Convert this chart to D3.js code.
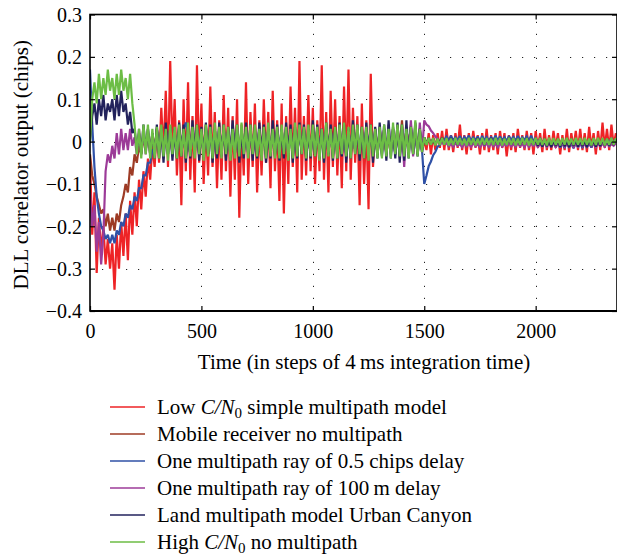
<!DOCTYPE html>
<html><head><meta charset="utf-8">
<script src="https://cdn.jsdelivr.net/npm/d3@7"></script>
<style>body{margin:0;background:#fff}svg{display:block}</style>
</head><body>
<svg id="chart" width="617" height="555"></svg>
<script>
// time axis: one sample every timeStep integration steps
const timeStep = 10;
const xDomain = [0, 2365];
const yDomain = [-0.4, 0.3];
const xTicks = [0, 500, 1000, 1500, 2000];
const yTicks = [0.3, 0.2, 0.1, 0, -0.1, -0.2, -0.3, -0.4];
const xTitle = "Time (in steps of 4\u2009ms integration time)";
const yTitle = "DLL correlator output (chips)";
const seriesNames = ["Low C/N0 simple multipath model", "Mobile receiver no multipath", "One multipath ray of 0.5 chips delay", "One multipath ray of 100\u2009m delay", "Land multipath model Urban Canyon", "High C/N0 no multipath"];
const seriesColors = ["#ee2326", "#9e3b25", "#2f50a6", "#9c3b98", "#22225c", "#6cbd45"];

const lowCN0Multipath = [
-.04,-.22,-.12,-.31,-.18,-.26,-.2,-.29,-.23,-.3,
-.24,-.35,-.22,-.3,-.19,-.27,-.17,-.28,-.14,-.22,
-.12,-.2,-.09,-.16,-.07,-.13,-.04,-.09,-.01,-.06,
.03,-.05,.08,-.03,.12,-.06,.19,-.02,.1,-.08,
.05,-.15,.1,-.07,.14,-.09,.06,-.12,.18,-.05,
.09,-.1,.04,-.08,.13,-.06,.07,-.11,.05,-.09,
.11,-.07,.08,-.13,.06,-.09,.1,-.18,.04,-.08,
.14,-.1,.07,-.06,.09,-.12,.05,-.08,.1,-.05,
.07,-.11,.12,-.07,.05,-.14,.09,-.17,.06,-.1,
.13,-.06,.08,-.12,.19,-.09,.06,-.08,.11,-.07,
.08,-.1,.05,-.07,.18,-.09,.07,-.12,.12,-.06,
.1,-.08,.06,-.11,.13,-.07,.17,-.09,.08,-.05,
.06,-.15,.09,-.1,.05,-.16,.16,-.06,.03,-.03,
.02,-.02,.03,-.03,.02,-.01,.03,-.02,.02,-.03,
.02,-.03,.03,-.02,.02,-.02,.03,-.03,.02,-.02,
0,-.02,.02,-.03,.015,-.02,.02,-.015,.025,-.02,
.03,-.02,.015,-.025,.02,-.015,.04,-.02,.015,-.03,
.02,-.02,.025,-.015,.015,-.03,.02,-.02,.03,-.025,
.015,-.02,.02,-.03,.025,-.015,.02,-.035,.015,-.02,
.02,-.025,.03,-.015,.015,-.02,.025,-.02,.02,-.03,
.025,-.015,.02,-.025,.03,-.02,.015,-.02,.025,-.015,
.02,-.03,.015,-.02,.03,-.025,.02,-.015,.025,-.02,
.03,-.02,.02,-.025,.035,-.015,.02,-.03,.025,-.02,
.045,-.015,.03,-.02,.04,-.01,.02];

const mobileNoMultipath = [
-.03,-.08,-.1,-.13,-.15,-.17,-.16,-.2,-.17,-.21,
-.18,-.21,-.17,-.19,-.15,-.13,-.1,-.12,-.06,-.08,
-.03,-.05,-.01,-.03,.01,-.02,.02,-.03,.02,-.02,
.03,-.02,.02,-.03,.03,-.02,.02,-.03,.02,-.02,
.02,-.03,.03,-.02,.02,-.03,.03,-.02,.03,-.03,
.03,-.02,.02,-.03,.02,-.02,.03,-.03,.02,-.02,
.02,-.03,.03,-.02,.03,-.03,.02,-.02,.03,-.02,
.03,-.02,.02,-.03,.02,-.03,.03,-.02,.02,-.03,
.02,-.03,.03,-.02,.02,-.02,.03,-.03,.02,-.02,
.03,-.02,.02,-.03,.03,-.02,.02,-.03,.03,-.02,
.02,-.03,.03,-.02,.02,-.03,.02,-.02,.03,-.03,
.03,-.02,.02,-.03,.03,-.02,.03,-.03,.02,-.02,
.02,-.03,.03,-.02,.02,-.03,.03,-.02,.02,-.03,
.03,-.02,.02,-.03,.02,-.02,.03,-.03,.04,-.02,
.05,-.03,.03,-.02,.04,-.03,.02,-.02,.03,-.02,
.01,-.005,.008,-.006,.007,-.008,.006,-.005,.008,-.006,
.007,-.005,.006,-.007,.008,-.004,.006,-.006,.007,-.005,
.006,-.007,.008,-.005,.006,-.006,.007,-.004,.008,-.006,
.007,-.006,.005,-.007,.006,-.005,.008,-.006,.006,-.004,
.008,-.005,.006,-.006,.007,-.007,.005,-.005,.007,-.006,
.006,-.006,.007,-.005,.008,-.006,.006,-.007,.005,-.005,
.007,-.005,.006,-.006,.008,-.004,.007,-.006,.006,-.007,
.005,-.006,.007,-.005,.006,-.007,.008,-.005,.006,-.006,
.007,-.005,.006,-.006,.008,-.005,.006];

const rayHalfChip = [
.17,.04,-.06,-.13,-.17,-.2,-.21,-.23,-.22,-.24,
-.22,-.24,-.21,-.22,-.19,-.2,-.17,-.18,-.15,-.16,
-.13,-.14,-.11,-.11,-.08,-.08,-.05,-.05,-.02,-.02,
.02,-.02,.03,-.02,.02,-.03,.03,-.02,.02,-.02,
.03,-.02,.03,.045,.02,-.03,.02,-.02,.03,-.02,
.02,-.03,.03,-.02,.02,-.02,.03,-.03,.02,-.02,
.03,-.02,.02,-.03,.03,-.02,.02,-.03,.03,-.02,
.02,-.03,.03,-.02,.02,-.03,.02,-.02,.03,-.03,
.03,-.02,.02,-.03,.03,-.02,.03,-.02,.02,-.03,
.02,-.02,.03,-.03,.02,-.02,.03,-.02,.02,-.03,
.03,-.03,.02,-.02,.03,-.02,.02,-.03,.03,-.02,
.02,-.02,.03,-.03,.02,-.03,.03,-.02,.02,-.02,
.03,-.02,.02,-.03,.03,-.02,.02,-.02,.03,-.03,
.02,-.03,.03,-.02,.02,-.02,.03,-.03,.02,-.02,
.03,-.02,.02,-.03,.03,-.02,.02,-.03,.02,-.02,
-.1,-.08,-.058,-.047,-.032,-.024,-.012,-.008,.002,.004,
.012,.003,.014,.002,.01,.004,.013,.001,.011,.005,
.014,.002,.01,.004,.012,.001,.013,.003,.011,.002,
.01,.004,.014,.002,.012,.003,.01,.001,.013,.004,
.011,.002,.013,.003,.01,.004,.012,.002,.014,.001,
.008,-.002,.006,-.004,.003,-.008,.002,-.01,0,-.012,
-.003,-.014,-.004,-.015,-.002,-.012,-.005,-.016,-.003,-.013,
-.004,-.015,-.002,-.012,-.005,-.014,-.003,-.011,0,-.01,
.004,-.008,.006,-.006,.008,-.004,.005];

const ray100m = [
-.12,-.2,-.15,-.26,-.19,-.29,-.22,-.07,-.03,-.05,
-.01,-.04,.02,-.03,.03,-.02,.02,-.02,.03,-.01,
.01,-.03,.03,-.02,.02,-.03,.03,-.02,.02,-.03,
.03,-.03,.02,-.04,.035,-.02,.03,-.035,.025,-.03,
.035,-.025,.03,-.04,.02,-.03,.04,-.02,.03,-.035,
.025,-.03,.035,-.02,.03,-.04,.02,-.03,.035,-.025,
.03,-.035,.025,-.03,.04,-.02,.03,-.04,.02,-.03,
.035,-.02,.03,-.035,.025,-.03,.035,-.025,.03,-.04,
.02,-.03,.04,-.025,.03,-.035,.02,-.03,.035,-.02,
.03,-.04,.025,-.03,.035,-.02,.03,-.035,.02,-.03,
.04,-.025,.03,-.03,.02,-.04,.035,-.02,.03,-.035,
.025,-.03,.035,-.025,.03,-.04,.02,-.03,.04,-.02,
.03,-.035,.025,-.03,.035,-.02,.03,-.04,.025,-.03,
.035,-.025,.03,-.035,.04,-.03,.025,-.03,.035,-.04,
.03,-.06,.035,-.03,.05,-.035,.04,-.03,.045,-.025,
.05,.04,.036,.026,.02,.012,.006,0,-.004,-.006,
-.004,-.011,-.005,-.012,-.003,-.01,-.006,-.013,-.004,-.011,
-.005,-.012,-.003,-.011,-.006,-.013,-.004,-.01,-.005,-.012,
-.003,-.011,-.005,-.013,-.004,-.012,-.006,-.01,-.003,-.011,
-.006,-.012,-.004,-.011,-.005,-.013,-.003,-.012,-.005,-.01,
-.004,-.013,-.006,-.011,-.003,-.012,-.005,-.011,-.004,-.013,
-.005,-.01,-.004,-.012,-.006,-.011,-.003,-.013,-.005,-.012,
-.004,-.011,-.006,-.012,-.003,-.01,-.005,-.013,-.004,-.011,
-.005,-.012,-.003,-.011,-.006,-.01,-.004];

const landUrbanCanyon = [
0,.06,.09,.04,.1,.06,.11,.05,.09,.07,
.1,.05,.11,.06,.12,.07,.09,.04,.07,.02,
.03,-.02,.02,-.03,.04,-.02,.03,-.03,.02,-.04,
.04,-.04,.03,-.05,.045,-.03,.035,-.045,.03,-.04,
.045,-.035,.04,-.05,.03,-.04,.05,-.03,.04,-.045,
.035,-.04,.045,-.03,.04,-.05,.03,-.04,.045,-.035,
.04,-.045,.035,-.04,.05,-.03,.04,-.05,.03,-.04,
.045,-.03,.04,-.045,.035,-.04,.045,-.035,.04,-.05,
.03,-.04,.05,-.035,.04,-.045,.03,-.04,.045,-.03,
.04,-.05,.035,-.04,.045,-.03,.04,-.045,.03,-.04,
.05,-.035,.04,-.04,.03,-.05,.045,-.03,.04,-.045,
.035,-.04,.045,-.035,.04,-.05,.03,-.04,.05,-.03,
.04,-.045,.035,-.04,.045,-.03,.04,-.05,.035,-.04,
.045,-.035,.04,-.045,.05,-.04,.035,-.04,.045,-.05,
.04,-.045,.05,-.04,.035,-.03,.045,-.035,.03,-.025,
.01,-.006,.008,-.005,.007,-.008,.006,-.004,.009,-.006,
.007,-.005,.008,-.006,.006,-.007,.008,-.005,.007,-.006,
.006,-.007,.007,-.005,.008,-.006,.006,-.008,.007,-.005,
.008,-.006,.006,-.007,.007,-.005,.006,-.006,.008,-.007,
.006,-.005,.007,-.008,.006,-.006,.008,-.005,.006,-.007,
.004,-.01,.003,-.012,.005,-.011,.002,-.013,.004,-.01,
.003,-.012,.004,-.011,.002,-.013,.005,-.01,.003,-.012,
.004,-.011,.003,-.013,.005,-.01,.002,-.012,.004,-.011,
.005,-.009,.004,-.01,.006,-.008,.005];

const highCN0NoMultipath = [
0,.1,.14,.09,.16,.1,.15,.11,.17,.12,
.15,.1,.16,.11,.17,.12,.15,.1,.16,.09,
.04,-.03,.03,-.04,.04,-.03,.04,-.04,.03,-.04,
.035,-.04,.04,-.035,.03,-.045,.04,-.03,.035,-.04,
.04,-.035,.03,-.04,.045,-.035,.035,-.04,.04,-.03,
.03,-.045,.04,-.035,.035,-.04,.045,-.03,.035,-.04,
.04,-.03,.035,-.045,.03,-.04,.04,-.035,.045,-.03,
.035,-.04,.04,-.03,.04,-.035,.03,-.045,.035,-.04,
.045,-.035,.03,-.04,.035,-.04,.04,-.03,.035,-.045,
.03,-.04,.045,-.035,.04,-.03,.035,-.04,.04,-.035,
.04,-.035,.035,-.045,.03,-.04,.045,-.035,.03,-.04,
.035,-.04,.04,-.03,.045,-.035,.035,-.04,.04,-.03,
.04,-.03,.035,-.04,.035,-.045,.04,-.035,.03,-.04,
.035,-.04,.04,-.035,.03,-.04,.045,-.03,.04,-.035,
.04,-.035,.03,-.04,.035,-.03,.05,-.035,.03,-.025,
.01,-.008,.009,-.007,.008,-.009,.007,-.008,.009,-.007,
.008,-.009,.007,-.008,.009,-.007,.008,-.008,.007,-.009,
.009,-.007,.008,-.009,.007,-.008,.009,-.007,.008,-.008,
.007,-.008,.009,-.007,.008,-.009,.007,-.008,.009,-.007,
.008,-.009,.007,-.008,.009,-.007,.008,-.009,.007,-.008,
.009,-.007,.008,-.008,.007,-.009,.009,-.007,.008,-.008,
.007,-.009,.008,-.007,.009,-.008,.007,-.008,.009,-.007,
.008,-.008,.009,-.007,.007,-.009,.008,-.008,.009,-.007,
.008,-.009,.007,-.008,.009,-.007,.008];

const seriesValues = [lowCN0Multipath, mobileNoMultipath, rayHalfChip, ray100m, landUrbanCanyon, highCN0NoMultipath];

const svg = d3.select("#chart");
const font = "'Liberation Serif','Times New Roman',serif";
const L = 90, R = 617, T = 14.5, B = 311;

const x = d3.scaleLinear().domain(xDomain).range([L, R]);
const y = d3.scaleLinear().domain(yDomain).range([B, T]);

// grid
const grid = svg.append("g").attr("stroke", "#222").attr("stroke-width", 1).attr("stroke-dasharray", "1.2,10.8");
grid.selectAll("line.gx").data(xTicks.filter(d => d > xDomain[0])).enter().append("line")
  .attr("x1", d => Math.round(x(d)) + 0.5).attr("x2", d => Math.round(x(d)) + 0.5)
  .attr("y1", B).attr("y2", T);
grid.selectAll("line.gy").data(yTicks.filter(d => d > yDomain[0] && d < yDomain[1])).enter().append("line")
  .attr("x1", L).attr("x2", R)
  .attr("y1", d => Math.round(y(d)) + 0.5).attr("y2", d => Math.round(y(d)) + 0.5);

// series
svg.append("clipPath").attr("id", "clip").append("rect")
  .attr("x", L).attr("y", T).attr("width", R - L).attr("height", B - T);
const line = d3.line().x((d, i) => x(i * timeStep)).y(d => y(d));
svg.append("g").attr("clip-path", "url(#clip)")
  .selectAll("path").data(seriesValues).enter().append("path")
  .attr("d", d => line(d))
  .attr("fill", "none")
  .attr("stroke", (d, i) => seriesColors[i])
  .attr("stroke-width", 2.2)
  .attr("stroke-linejoin", "miter")
  .attr("stroke-miterlimit", 2);

// axes
const fmt = d => d === 0 ? "0" : d3.format(".1f")(d).replace("-", "\u2212");
const xAxis = svg.append("g").attr("transform", `translate(0,${B})`)
  .call(d3.axisBottom(x).tickValues(xTicks).tickSizeInner(-5).tickSizeOuter(0).tickPadding(14).tickFormat(d3.format("d")));
xAxis.selectAll("text").attr("dy", null).attr("y", 27);
const yAxis = svg.append("g").attr("transform", `translate(${L},0)`)
  .call(d3.axisLeft(y).tickValues(yTicks).tickSizeInner(-5).tickSizeOuter(0).tickPadding(8).tickFormat(fmt));
svg.append("g").attr("transform", `translate(0,${T})`)
  .call(d3.axisTop(x).tickValues(xTicks).tickSizeInner(-5).tickSizeOuter(0).tickFormat(""));
svg.append("g").attr("transform", `translate(${R},0)`)
  .call(d3.axisRight(y).tickValues(yTicks).tickSizeInner(-5).tickSizeOuter(0).tickFormat(""));
svg.selectAll(".domain").remove();
svg.selectAll(".tick line").attr("stroke", "#000").attr("stroke-width", 1.2);
svg.selectAll(".tick text").attr("font-family", font).attr("font-size", 20).attr("fill", "#000");
yAxis.selectAll("text").attr("dy", "0.34em");

// frame
svg.append("rect").attr("x", L).attr("y", T).attr("width", R - L).attr("height", B - T)
  .attr("fill", "none").attr("stroke", "#000").attr("stroke-width", 1.6);
svg.append("line").attr("x1", L).attr("x2", R).attr("y1", B).attr("y2", B).attr("stroke", "#000").attr("stroke-width", 2.2);

// titles
svg.append("text").attr("x", 364).attr("y", 369).attr("text-anchor", "middle")
  .attr("font-family", font).attr("font-size", 21).text(xTitle);
svg.append("text").attr("transform", `translate(28,${(T + B) / 2 + 2}) rotate(-90)`).attr("text-anchor", "middle")
  .attr("font-family", font).attr("font-size", 21).text(yTitle);

// legend
const leg = svg.append("g");
seriesNames.forEach((name, i) => {
  const cy = 407 + i * 27;
  leg.append("line").attr("x1", 110).attr("x2", 145).attr("y1", cy).attr("y2", cy)
    .attr("stroke", seriesColors[i]).attr("stroke-width", 1.3);
  const t = leg.append("text").attr("x", 157).attr("y", cy + 6.5)
    .attr("font-family", font).attr("font-size", 21).attr("fill", "#000");
  const parts = name.split("C/N0");
  if (parts.length === 2) {
    t.append("tspan").text(parts[0]);
    t.append("tspan").attr("font-style", "italic").text("C/N");
    t.append("tspan").attr("font-size", 15).attr("dy", 4).text("0");
    t.append("tspan").attr("dy", -4).text(parts[1]);
  } else {
    t.text(name);
  }
});
</script>
</body></html>
